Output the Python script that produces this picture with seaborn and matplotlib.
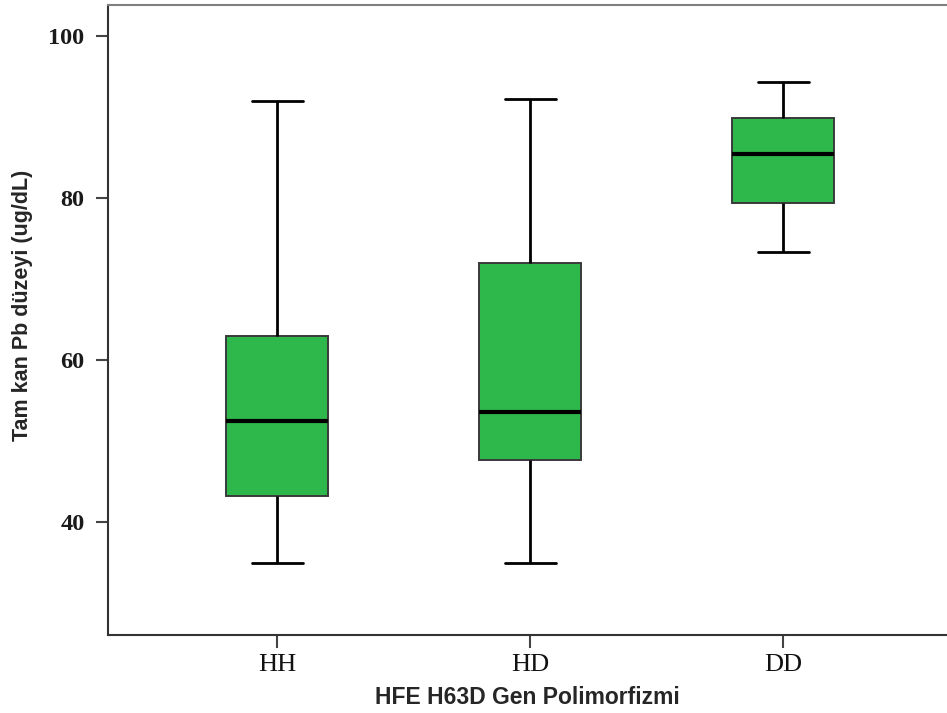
import numpy as np
import pandas as pd
import matplotlib
matplotlib.use("Agg")
import matplotlib.pyplot as plt
import seaborn as sns

categories = ["HH", "HD", "DD"]
# five-number summaries: min, Q1, median, Q3, max
hh_vals = [34.9, 43.2, 52.5, 62.9, 91.9]
hd_vals = [34.9, 47.6, 53.6, 71.9, 92.2]
dd_vals = [73.3, 79.4, 85.4, 89.9, 94.3]
y_ticks = [40, 60, 80, 100]

df = pd.DataFrame({
    "grup": np.repeat(categories, 5),
    "pb": hh_vals + hd_vals + dd_vals,
})

sns.set_theme(style="white")
fig = plt.figure(figsize=(9.47, 7.13), dpi=100)
ax = fig.add_axes([108/947, 1-635/713, 1-108/947, 630/713])

sns.boxplot(data=df, x="grup", y="pb", order=categories, ax=ax,
            color="#2EB84B", saturation=1, width=0.403, whis=(0, 100),
            linewidth=1.6, linecolor="#222222",
            boxprops=dict(edgecolor="#3a3a3a", linewidth=1.4),
            medianprops=dict(color="black", linewidth=3),
            whiskerprops=dict(color="black", linewidth=2),
            capprops=dict(color="black", linewidth=2))

ax.set_ylim(26.05, 103.8)
ax.set_xlim(-0.668, 2.648)
ax.set_yticks(y_ticks)
ax.set_yticklabels([str(t) for t in y_ticks], fontfamily="Liberation Serif",
                   fontweight="bold", fontsize=17.5, color="#1a1a1a")
ax.set_xticks(range(len(categories)))
ax.set_xticklabels(categories, fontfamily="Liberation Serif", fontsize=19,
                   color="#111111")

for side in ["left", "bottom", "top"]:
    ax.spines[side].set_visible(True)
    ax.spines[side].set_linewidth(1.5)
    ax.spines[side].set_color("#333333")
ax.spines["top"].set_color("#808080")
ax.spines["right"].set_visible(False)

ax.tick_params(axis="y", direction="out", length=9, width=1.5,
               color="#444444", left=True, pad=8)
ax.tick_params(axis="x", direction="out", length=9, width=1.5,
               color="#444444", bottom=True, pad=5)

ax.set_xlabel("HFE H63D Gen Polimorfizmi", fontfamily="Liberation Sans",
              fontweight="bold", fontsize=16.5, labelpad=7)
ax.set_ylabel("Tam kan Pb düzeyi (ug/dL)", fontfamily="Liberation Sans",
              fontweight="bold", fontsize=15.5)
ax.yaxis.set_label_coords(-0.0894, 0.524)

fig.savefig("out.png", dpi=100)
